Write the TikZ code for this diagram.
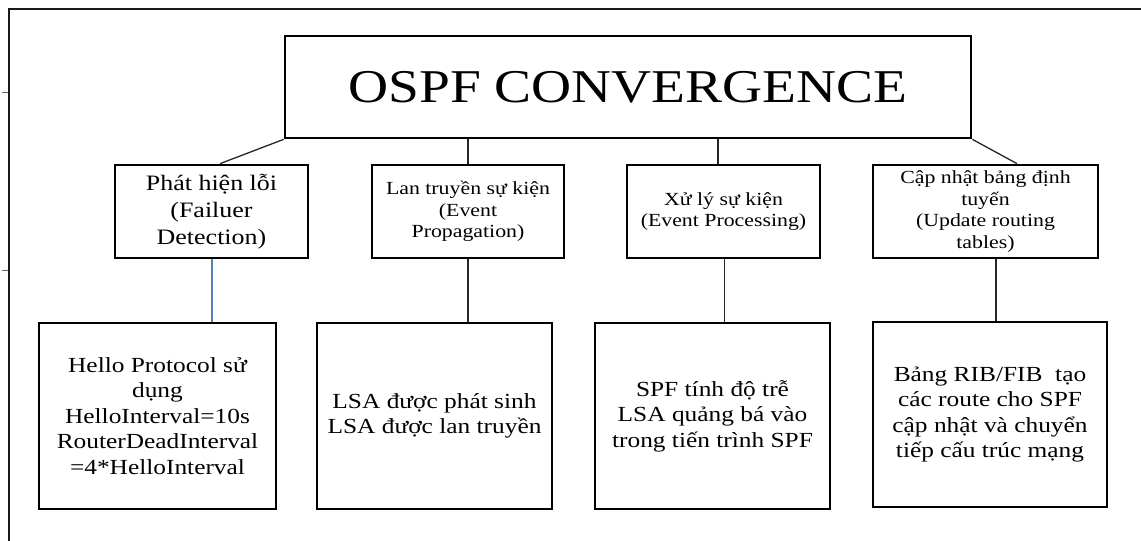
\documentclass[tikz,border=0pt]{standalone}
\usepackage{fontspec}
\setmainfont{Liberation Serif}[FakeStretch=1.18]
\definecolor{linkblue}{RGB}{79,129,189}
\tikzset{
  x=1pt, y=-1pt,
  boxstyle/.style={draw=black, line width=2.7pt, fill=white, inner sep=0pt, align=center, text=black},
  titlebox/.style={boxstyle, minimum width=686pt, minimum height=102pt, font=\fontsize{47}{52}\selectfont},
  headbox/.style={boxstyle, minimum height=93pt, font=\fontsize{18.5}{21.5}\selectfont},
  leafbox/.style={boxstyle, minimum height=186pt, font=\fontsize{21.5}{25.5}\selectfont},
  link/.style={draw=black!85, line width=1.3pt},
  bluelink/.style={draw=linkblue, line width=1.3pt},
  frameline/.style={draw=black!90, line width=2.6pt},
  tick/.style={draw=black!60, line width=0.8pt}
}
\begin{document}
\begin{tikzpicture}
\useasboundingbox (0,0) rectangle (1141,541);
% outer frame (open on right and bottom)
\coordinate (fbl) at (9,541);
\coordinate (ftl) at (9,9);
\coordinate (ftr) at (1141,9);
\draw[frameline] (fbl) -- (ftl) -- (ftr);
\coordinate (t1a) at (2,92); \coordinate (t1b) at (8,92);
\coordinate (t2a) at (2,270); \coordinate (t2b) at (8,270);
\draw[tick] (t1a) -- (t1b);
\draw[tick] (t2a) -- (t2b);

% title
\node[titlebox] (t) at (628,87) {OSPF CONVERGENCE};

% head boxes
\node[headbox, minimum width=193pt, font=\fontsize{22}{27}\selectfont] (b1) at (211.5,211.5) {Phát hiện lỗi\\(Failuer\\Detection)};
\node[headbox, minimum width=192pt] (b2) at (468,211.5) {Lan truyền sự kiện\\(Event\\Propagation)};
\node[headbox, minimum width=193pt] (b3) at (723.5,211.5) {Xử lý sự kiện\\(Event Processing)};
\node[headbox, minimum width=225pt] (b4) at (985.5,211.5) {Cập nhật bảng định\\tuyến\\(Update routing\\tables)};

% leaf boxes
\node[leafbox, minimum width=237pt] (l1) at (157.5,416) {Hello Protocol sử\\dụng\\HelloInterval=10s\\RouterDeadInterval\\=4*HelloInterval};
\node[leafbox, minimum width=235pt] (l2) at (434.5,416) {LSA được phát sinh\\LSA được lan truyền};
\node[leafbox, minimum width=235pt] (l3) at (712.5,416) {SPF tính độ trễ\\LSA quảng bá vào\\trong tiến trình SPF};
\node[leafbox, minimum width=234pt, minimum height=185pt] (l4) at (990,414.5) {Bảng RIB/FIB \ tạo\\các route cho SPF\\cập nhật và chuyển\\tiếp cấu trúc mạng};

% connectors title -> heads
\begin{scope}[on background layer/.style={}]
\draw[link] (t.south west) -- ([xshift=8.5pt]b1.north);
\draw[link] (b2.north) -- (b2.north |- t.south);
\draw[link] ([xshift=-5.5pt]b3.north) -- ([xshift=-5.5pt]b3.north |- t.south);
\draw[link] (t.south east) -- ([xshift=31.5pt]b4.north);

% connectors heads -> leaves
\draw[bluelink] ([xshift=0.5pt]b1.south) -- ([xshift=0.5pt]b1.south |- l1.north);
\draw[link] (b2.south) -- (b2.south |- l2.north);
\draw[link] ([xshift=1pt]b3.south) -- ([xshift=1pt]b3.south |- l3.north);
\draw[link] ([xshift=10.5pt]b4.south) -- ([xshift=10.5pt]b4.south |- l4.north);
\end{scope}
\end{tikzpicture}
\end{document}
